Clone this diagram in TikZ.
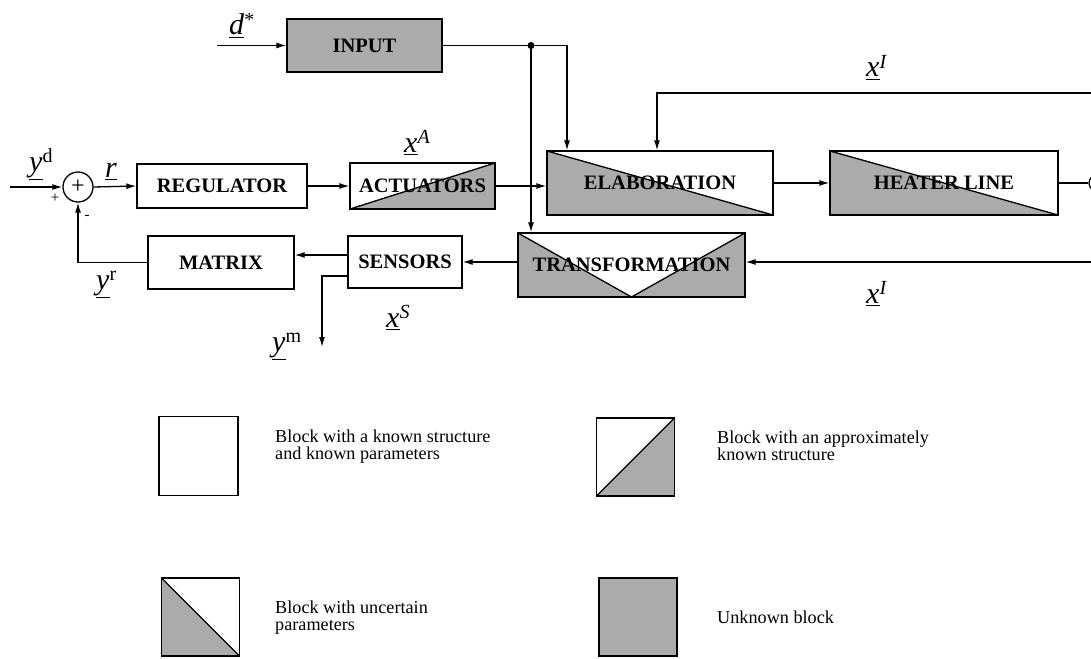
\documentclass[tikz,border=0pt]{standalone}
\usepackage{fontspec}
\setmainfont{Liberation Serif}
\usetikzlibrary{arrows.meta}
\newcommand{\ulx}[1]{\setbox0\hbox{#1}\rlap{\rule[-\dimexpr\dp0+3pt\relax]{\wd0}{1.1pt}}\box0}
\newcommand{\sgl}[2]{\ulx{\textit{#1}}\raisebox{8.5pt}{\fontsize{20}{20}\selectfont #2}}
\begin{document}
\begin{tikzpicture}[x=1pt,y=-1pt,
  shd/.style={fill=black!33},
  blk/.style={draw, line width=1.3pt, rectangle, inner sep=0pt, font=\fontsize{20.5}{20.5}\selectfont\bfseries},
  unknown/.style={fill=black!33},
  approx/.style={path picture={
    \fill[shd] (path picture bounding box.south west) -- (path picture bounding box.south east) -- (path picture bounding box.north east) -- cycle;
    \draw[line width=1.3pt] (path picture bounding box.south west) -- (path picture bounding box.north east);}},
  uncert/.style={path picture={
    \fill[shd] (path picture bounding box.north west) -- (path picture bounding box.south west) -- (path picture bounding box.south east) -- cycle;
    \draw[line width=1.3pt] (path picture bounding box.north west) -- (path picture bounding box.south east);}},
  vshape/.style={fill=black!33, path picture={
    \fill[white] (path picture bounding box.north west) -- (path picture bounding box.south) -- (path picture bounding box.north east) -- cycle;
    \draw[line width=1.3pt] (path picture bounding box.north west) -- (path picture bounding box.south) -- (path picture bounding box.north east);}},
  wire/.style={line width=1.3pt},
  conn/.style={line width=1.3pt, -{Latex[length=10pt,width=6pt]}},
  lbl/.style={anchor=base west, inner sep=0pt, font=\fontsize{30}{30}\selectfont},
  leg/.style={inner sep=0pt, align=left, font=\fontsize{18.2}{17}\selectfont},
  sgn/.style={inner sep=0pt, font=\fontsize{15}{15}\selectfont}
]
\useasboundingbox (0,0) rectangle (1091,658);

% blocks
\node[blk, unknown, minimum width=155pt, minimum height=53pt] (input) at (364.5,45.5) {INPUT};
\node[blk, minimum width=170pt, minimum height=44pt] (reg) at (222,186) {REGULATOR};
\node[blk, approx, minimum width=145pt, minimum height=46pt] (act) at (422.5,186) {ACTUATORS};
\node[blk, uncert, minimum width=226pt, minimum height=64pt] (elab) at (660,183) {ELABORATION};
\node[blk, uncert, minimum width=228pt, minimum height=64pt] (heat) at (944,183) {HEATER LINE};
\node[blk, vshape, minimum width=227pt, minimum height=64pt] (trans) at (631.5,265) {TRANSFORMATION};
\node[blk, minimum width=114pt, minimum height=52pt] (sens) at (405,262) {SENSORS};
\node[blk, minimum width=146pt, minimum height=53pt] (mat) at (221,262.5) {MATRIX};
\node[circle, draw, line width=1.3pt, minimum size=30pt, inner sep=0pt, font=\fontsize{24}{24}\selectfont] (sum) at (78,187) {+};
\begin{scope}
\clip (0,0) rectangle (1091,658);
\node[circle, draw, line width=1.3pt, minimum size=16pt, inner sep=0pt] (out) at (1097,183) {};
\end{scope}

% connectors
\coordinate (din) at (217,45.5);
\coordinate (jn) at (531,45.5);
\coordinate (jr) at (567,45.5);
\coordinate (xitop) at (1091,93);
\coordinate (xib) at (657,93);
\coordinate (xibot) at (1091,262);
\coordinate (ymend) at (322,347);
\coordinate (ydin) at (10,187);

\draw[conn] (din) -- (input.west);
\draw[wire] (input.east) -- (jn);
\draw[conn] (jn) -- (jr) -- (jr |- elab.north);
\draw[conn] (jn) -- (jn |- trans.north);
\fill (jn) circle (3.5pt);
\draw[conn] (xitop) -- (xib) -- (xib |- elab.north);
\draw[conn] (act.east) -- (act.east -| elab.west);
\draw[conn] (elab.east) -- (heat.west);
\draw[wire] (heat.east) -- (out.west);
\draw[conn] (xibot) -- (xibot -| trans.east);
\draw[conn] (sens.east -| trans.west) -- (sens.east);
\draw[conn] ([yshift=7pt]sens.west) -- ([yshift=7pt]sens.west -| mat.east);
\draw[conn] ([yshift=-14pt]sens.west) -| (ymend);
\draw[conn] (mat.west) -| (sum.south);
\draw[conn] (ydin) -- (sum.west);
\draw[conn] (sum.east) -- (reg.west);
\draw[conn] (reg.east) -- (act.west);

% signal labels
\node[lbl] (ld) at (229,35) {\sgl{d}{*}};
\node[lbl] (lxa) at (404,152) {\sgl{x}{\textit{A}}};
\node[lbl] (lyd) at (29,171) {\sgl{y}{d}};
\node[lbl] (lr) at (105,177) {\ulx{\textit{r}}};
\node[lbl] (lxi1) at (866,77) {\sgl{x}{\textit{I}}};
\node[lbl] (lxi2) at (866,303) {\sgl{x}{\textit{I}}};
\node[lbl] (lyr) at (96,289) {\sgl{y}{r}};
\node[lbl] (lym) at (272,351) {\sgl{y}{m}};
\node[lbl] (lxs) at (386,327) {\sgl{x}{\textit{S}}};
\node[sgn] (plus) at (55,198) {+};
\node[sgn] (minus) at (87,217) {-};

% legend
\node[blk, minimum size=79pt] (k1) at (198.5,456) {};
\node[blk, approx, minimum size=78pt] (k2) at (635.5,457) {};
\node[blk, uncert, minimum size=78pt] (k3) at (200.5,617) {};
\node[blk, unknown, minimum size=78pt] (k4) at (638,617) {};
\node[leg, anchor=north west] (t1) at (275,429.5) {Block with a known structure\\and known parameters};
\node[leg, anchor=north west] (t2) at (717,430.5) {Block with an approximately\\known structure};
\node[leg, anchor=north west] (t3) at (275,600.5) {Block with uncertain\\parameters};
\node[leg, anchor=base west] (t4) at (717,623) {Unknown block};
\end{tikzpicture}
\end{document}
